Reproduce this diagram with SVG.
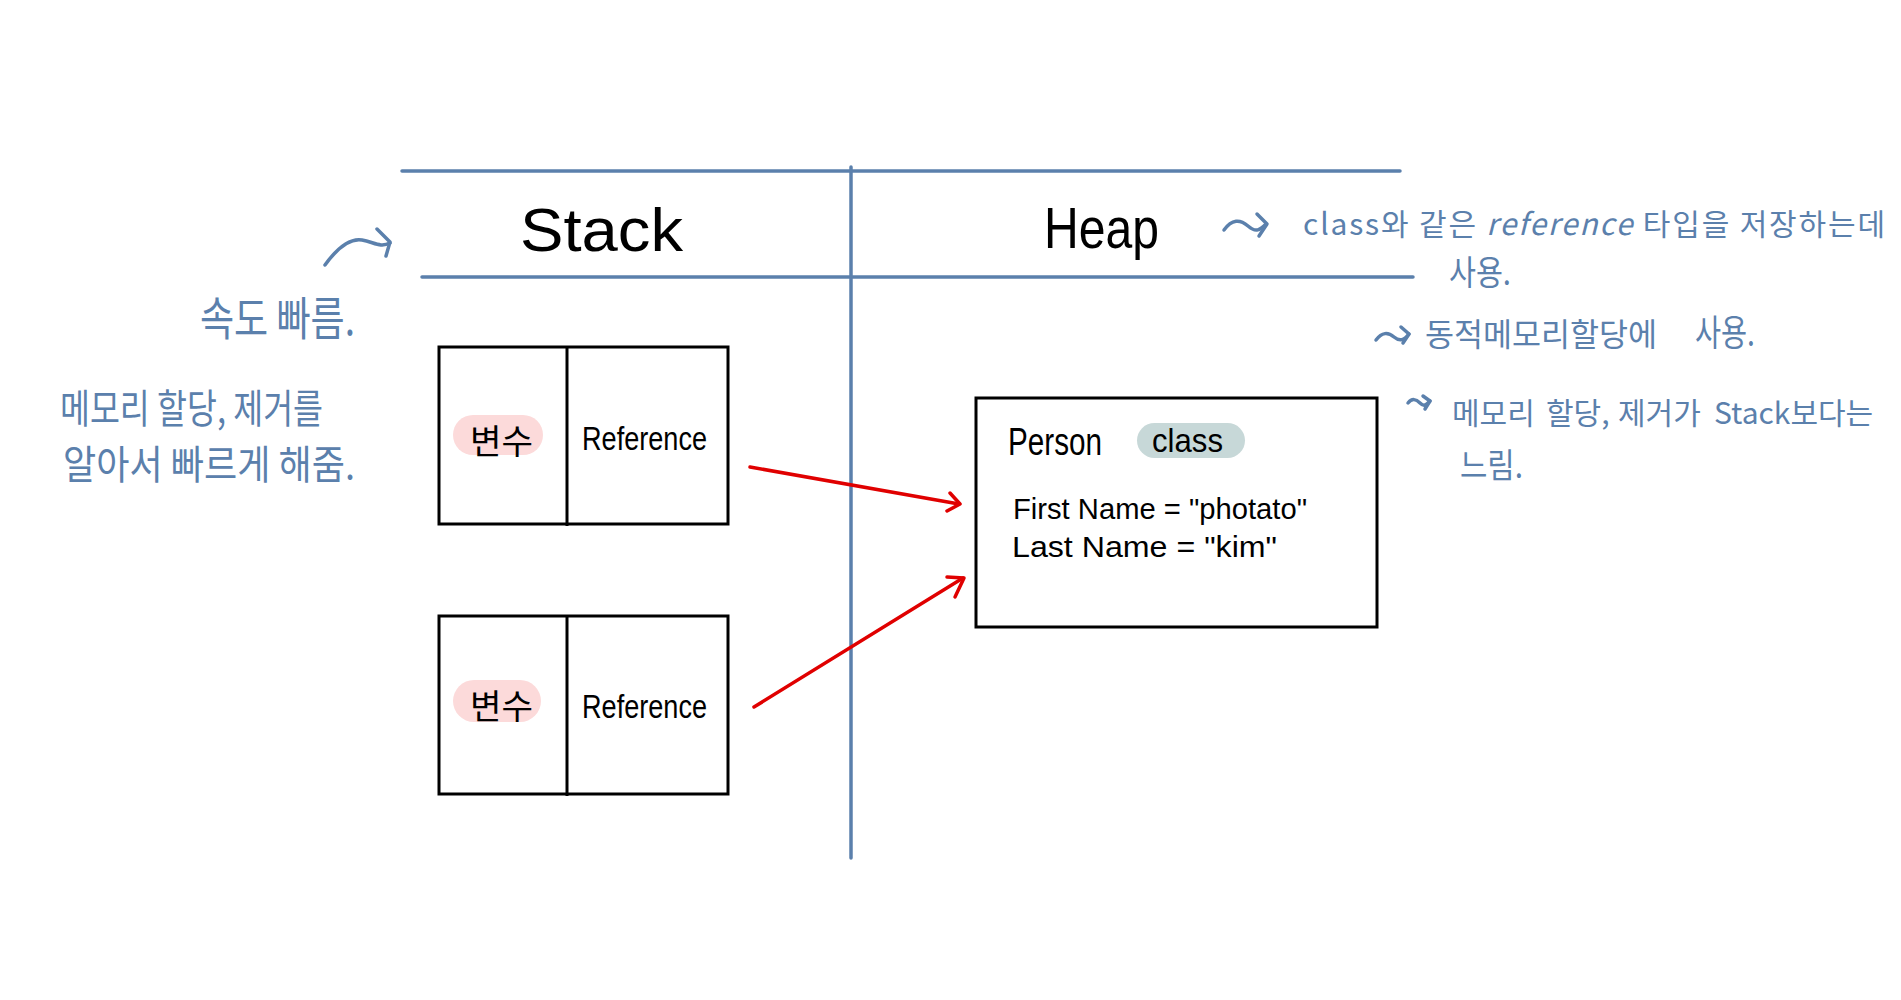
<svg xmlns="http://www.w3.org/2000/svg" width="1901" height="1000" viewBox="0 0 1901 1000">
<style>
  .grid{stroke:#5b80ac;stroke-width:3.5;fill:none;stroke-linecap:round}
  .box{stroke:#000;stroke-width:3;fill:none}
  .note{fill:#5b80ac;font-family:"Noto Sans CJK KR","Liberation Sans",sans-serif}
  .ink{fill:#000;font-family:"Liberation Sans","Noto Sans CJK KR",sans-serif}
  .kr{fill:#000;font-family:"Noto Sans CJK KR",sans-serif}
  .sq{stroke:#5b80ac;stroke-width:3.5;fill:none;stroke-linecap:round;stroke-linejoin:round}
  .red{stroke:#e00000;stroke-width:3.5;fill:none;stroke-linecap:round;stroke-linejoin:round}
</style>
<rect width="1901" height="1000" fill="#fff"/>

<g id="table">
  <line class="grid" x1="402" y1="171" x2="1400" y2="171"/>
  <line class="grid" x1="422" y1="277" x2="1413" y2="277"/>
  <line class="grid" x1="851" y1="167" x2="851" y2="858"/>
  <text class="ink" x="520" y="251" font-size="62" textLength="163" lengthAdjust="spacingAndGlyphs">Stack</text>
  <text class="ink" x="1044" y="248" font-size="58" textLength="115" lengthAdjust="spacingAndGlyphs">Heap</text>
</g>

<g id="stack-note">
  <path class="sq" d="M325,265 C338,247 350,238 362,240 S380,248 390,243"/>
  <path class="sq" d="M377,229 L390,242 L386,256"/>
  <text class="note" x="200" y="335" font-size="46" textLength="155" lengthAdjust="spacingAndGlyphs">속도 빠름.</text>
  <text class="note" x="60" y="423" font-size="40" textLength="263" lengthAdjust="spacingAndGlyphs">메모리 할당, 제거를</text>
  <text class="note" x="63" y="479" font-size="40" textLength="292" lengthAdjust="spacingAndGlyphs">알아서 빠르게 해줌.</text>
</g>

<g id="heap-note">
  <path class="sq" d="M1224,230 C1232,219 1240,219 1248,226 S1260,230 1266,224"/>
  <path class="sq" d="M1257,214 L1267,224 L1259,236"/>
  <text class="note" x="1303" y="235" font-size="30" textLength="582">class와 같은 <tspan font-style="italic">reference</tspan> 타입을 저장하는데</text>
  <text class="note" x="1449" y="285" font-size="34" textLength="62" lengthAdjust="spacingAndGlyphs">사용.</text>
  <path class="sq" d="M1376,340 C1382,332 1388,332 1394,337 S1404,340 1409,334"/>
  <path class="sq" d="M1401,327 L1409,334 L1403,343"/>
  <text class="note" x="1425" y="346" font-size="32" textLength="232" lengthAdjust="spacingAndGlyphs">동적메모리할당에</text>
  <text class="note" x="1695" y="346" font-size="36" textLength="60" lengthAdjust="spacingAndGlyphs">사용.</text>
  <path class="sq" d="M1408,403 C1412,398 1416,399 1420,403 S1426,405 1430,401"/>
  <path class="sq" d="M1423,396 L1430,401 L1425,409"/>
  <text class="note" x="1452" y="424" font-size="30">메모리</text>
  <text class="note" x="1546" y="424" font-size="30">할당,</text>
  <text class="note" x="1618" y="424" font-size="30">제거가</text>
  <text class="note" x="1714" y="424" font-size="30">Stack보다는</text>
  <text class="note" x="1460" y="478" font-size="34" textLength="63" lengthAdjust="spacingAndGlyphs">느림.</text>
</g>

<g id="stack-var-1">
  <rect class="box" x="439" y="347" width="289" height="177"/>
  <line class="box" x1="567" y1="347" x2="567" y2="526"/>
  <rect x="453" y="415" width="90" height="40" rx="20" fill="#fcdada"/>
  <text class="kr" x="470" y="454" font-size="34" textLength="63" lengthAdjust="spacingAndGlyphs">변수</text>
  <text class="ink" x="582" y="450" font-size="34" textLength="125" lengthAdjust="spacingAndGlyphs">Reference</text>
</g>

<g id="stack-var-2">
  <rect class="box" x="439" y="616" width="289" height="178"/>
  <line class="box" x1="567" y1="616" x2="567" y2="796"/>
  <rect x="453" y="680" width="88" height="42" rx="21" fill="#fcdada"/>
  <text class="kr" x="470" y="719" font-size="34" textLength="63" lengthAdjust="spacingAndGlyphs">변수</text>
  <text class="ink" x="582" y="718" font-size="34" textLength="125" lengthAdjust="spacingAndGlyphs">Reference</text>
</g>

<g id="person-object">
  <rect class="box" x="976" y="398" width="401" height="229"/>
  <text class="ink" x="1008" y="455" font-size="38" textLength="94" lengthAdjust="spacingAndGlyphs">Person</text>
  <rect x="1137" y="423" width="108" height="35" rx="17.5" fill="#c7d8d8"/>
  <text class="ink" x="1152" y="452" font-size="34" textLength="71" lengthAdjust="spacingAndGlyphs">class</text>
  <text class="ink" x="1013" y="519" font-size="30" textLength="294" lengthAdjust="spacingAndGlyphs">First Name = "photato"</text>
  <text class="ink" x="1012" y="557" font-size="30" textLength="265" lengthAdjust="spacingAndGlyphs">Last Name = "kim"</text>
</g>

<g id="connectors">
  <line class="red" x1="750" y1="467" x2="959" y2="504"/>
  <path class="red" d="M950,493 L960,504 L947,511"/>
  <line class="red" x1="754" y1="707" x2="963" y2="578"/>
  <path class="red" d="M947,577 L964,578 L955,597"/>
</g>
</svg>
